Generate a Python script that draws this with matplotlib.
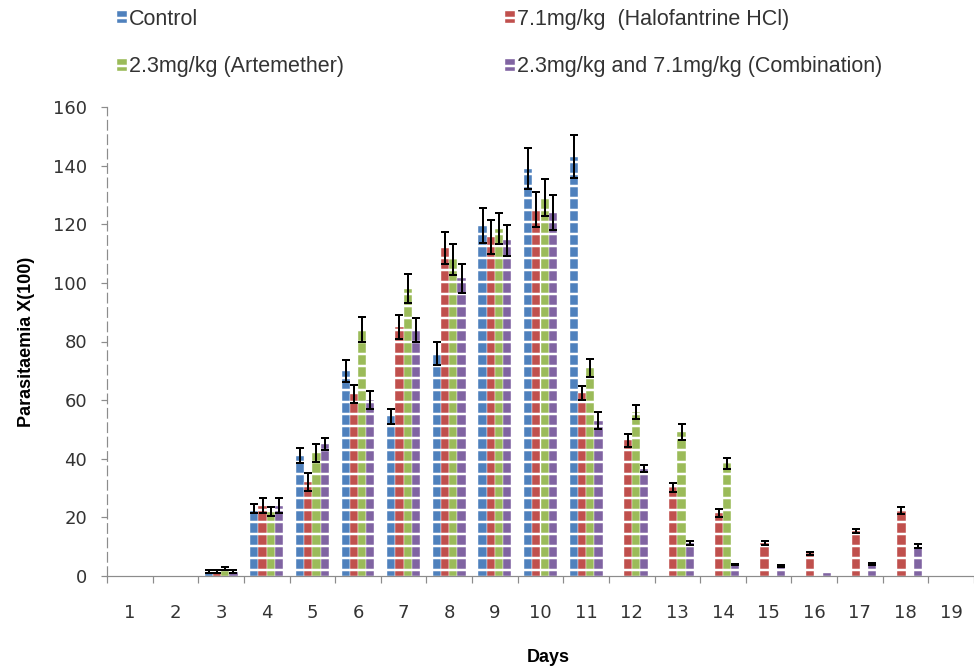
import numpy as np
import matplotlib
matplotlib.use("Agg")
from matplotlib import pyplot as plt

# data
days = list(range(1, 20))
control = [0, 0, 1.5, 23, 41, 70, 54.5, 76, 119.5, 139, 143, 0, 0, 0, 0, 0, 0, 0, 0]
control_err = [0, 0, 0.5, 1.5, 2.5, 3.7, 2.5, 4, 6, 7, 7.3, 0, 0, 0, 0, 0, 0, 0, 0]
halo = [0, 0, 1.5, 24, 32, 62, 85, 112, 115.5, 125, 62.4, 46.3, 30.3, 21.5, 11.3, 7.7, 15.4, 22.3, 0]
halo_err = [0, 0, 0.5, 2.5, 3, 3, 4, 5.4, 5.8, 6, 2.4, 2.2, 1.5, 1.3, 0.7, 0.4, 0.6, 1.1, 0]
arte = [0, 0, 2.5, 22, 42, 84, 98, 108, 118.5, 129, 71, 56, 49, 38.4, 0, 0, 0, 0, 0]
arte_err = [0, 0, 0.5, 1.5, 3, 4.2, 5, 5.4, 5.4, 6.3, 3.2, 2.4, 2.7, 2, 0, 0, 0, 0, 0]
combo = [0, 0, 1.5, 24, 45, 60, 84, 101.5, 114.5, 124, 53, 36.6, 11.3, 3.9, 3.3, 0.9, 4.2, 10.1, 0]
combo_err = [0, 0, 0.5, 2.5, 2, 3, 4, 5, 5.4, 6, 2.8, 1.2, 0.7, 0.3, 0.3, 0, 0.3, 0.7, 0]

labels = ["Control", "7.1mg/kg  (Halofantrine HCl)",
          "2.3mg/kg (Artemether)", "2.3mg/kg and 7.1mg/kg (Combination)"]
colors = ["#4F81BD", "#C0504D", "#9BBB59", "#8064A2"]
series = [(control, control_err), (halo, halo_err), (arte, arte_err), (combo, combo_err)]

W, H, DPI = 974, 671, 72
plt.rcParams["hatch.linewidth"] = 2.5
plt.rcParams["font.family"] = ["DejaVu Sans"]

fig = plt.figure(figsize=(W / DPI, H / DPI), dpi=DPI)
ax = fig.add_axes([107 / W, 1 - 576 / H, (W - 107) / W, (576 - 107) / H])

x = np.array(days, dtype=float)
bw = 0.18
handles = []
for i, ((vals, errs), col) in enumerate(zip(series, colors)):
    xi = x + (i - 1.5) * bw
    b = ax.bar(xi, vals, bw, color=col, edgecolor="white", linewidth=0.4,
               hatch="-", zorder=2)
    handles.append(b)
    vals = np.array(vals)
    errs = np.array(errs)
    m = errs > 0
    ax.errorbar(xi[m], vals[m], yerr=errs[m], fmt="none", ecolor="black",
                elinewidth=2, capsize=4, capthick=2, zorder=3)

ax.set_xlim(0.5, 0.5 + (W - 107) / 46.5)
ax.set_ylim(0, 160)
ax.set_yticks(range(0, 161, 20))
ax.set_xticks(days)
ax.set_xticks(np.arange(0.5, 20, 1), minor=True)

for s in ["top", "right"]:
    ax.spines[s].set_visible(False)
ax.spines["left"].set_color("#8c8c8c")
ax.spines["left"].set_linestyle((0, (8, 4)))
ax.spines["bottom"].set_color("#8c8c8c")
ax.spines["left"].set_linewidth(1.2)
ax.spines["bottom"].set_linewidth(1.2)

ax.tick_params(axis="x", which="major", length=0, pad=28, labelsize=18,
               labelcolor="#333333")
ax.tick_params(axis="x", which="minor", length=7, width=1.2, color="#8c8c8c",
               direction="out")
ax.tick_params(axis="y", length=6, width=1.2, color="#8c8c8c", pad=14,
               labelsize=18, labelcolor="#333333")

ax.set_ylabel("Parasitaemia X(100)", fontsize=18, fontweight="bold",
              family="Liberation Sans")
ax.yaxis.set_label_coords(-72 / (W - 107), 0.5)
fig.text(548 / W, 1 - 657 / H, "Days", fontsize=18, fontweight="bold",
         family="Liberation Sans", ha="center", va="center")

# legend fills column by column, so reorder to get the row layout
order = [0, 2, 1, 3]
fig.legend([handles[k] for k in order], [labels[k] for k in order],
           loc="upper left", bbox_to_anchor=(117 / W, 1 - 9 / H),
           ncol=2, frameon=False, prop={"family": "Liberation Sans", "size": 21.5},
           borderpad=0, borderaxespad=0,
           handlelength=0.45, handleheight=0.5, handletextpad=0.1,
           columnspacing=7.5, labelspacing=1.23, labelcolor="#333333")

fig.savefig("out.png", dpi=DPI)
